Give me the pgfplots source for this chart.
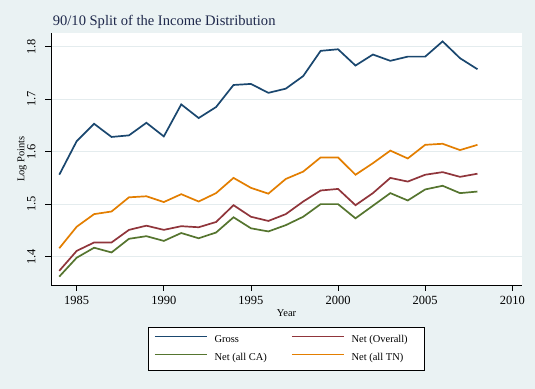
\documentclass[border=0pt]{standalone}
\usepackage{fontspec}
\setmainfont{Liberation Serif}
\usepackage{pgfplots}
\usepackage{pgfplotstable}
\pgfplotsset{compat=1.18}
\definecolor{bgc}{RGB}{234,242,243}
\definecolor{gridc}{RGB}{228,236,238}
\definecolor{snavy}{RGB}{26,71,111}
\definecolor{smaroon}{RGB}{144,53,59}
\definecolor{sgreen}{RGB}{85,117,47}
\definecolor{sorange}{RGB}{227,126,0}
\definecolor{titlec}{RGB}{30,40,75}
\pgfplotstableread{
year gross overall ca tn
1984 1.556 1.373 1.362 1.416
1985 1.620 1.411 1.398 1.457
1986 1.653 1.427 1.417 1.481
1987 1.628 1.427 1.408 1.486
1988 1.631 1.451 1.434 1.513
1989 1.655 1.459 1.439 1.515
1990 1.629 1.451 1.430 1.504
1991 1.690 1.458 1.445 1.519
1992 1.664 1.456 1.435 1.505
1993 1.685 1.466 1.446 1.521
1994 1.727 1.498 1.475 1.550
1995 1.729 1.476 1.454 1.531
1996 1.712 1.468 1.448 1.520
1997 1.720 1.481 1.460 1.548
1998 1.744 1.505 1.476 1.562
1999 1.792 1.526 1.500 1.589
2000 1.795 1.529 1.500 1.589
2001 1.764 1.498 1.473 1.556
2002 1.785 1.521 1.497 1.578
2003 1.773 1.550 1.521 1.602
2004 1.781 1.543 1.507 1.587
2005 1.781 1.556 1.528 1.613
2006 1.810 1.561 1.535 1.615
2007 1.778 1.552 1.521 1.603
2008 1.757 1.558 1.524 1.613
}\datatable
\begin{document}
\begin{tikzpicture}
\useasboundingbox (0,0) rectangle (535bp,389bp);
\fill[bgc] (0,0) rectangle (535bp,389bp);
\begin{axis}[
  at={(51bp,104bp)}, anchor=south west,
  scale only axis, width=471bp, height=252bp,
  xmin=1983.525, xmax=2010.557, ymin=1.346, ymax=1.826,
  axis x line*=bottom, axis y line*=left,
  axis background/.style={fill=white},
  axis line style={black, line width=0.9bp},
  xtick={1985,1990,...,2010}, ytick={1.4,1.5,1.6,1.7,1.8},
  x tick label style={/pgf/number format/1000 sep={}},
  y tick label style={/pgf/number format/fixed, /pgf/number format/precision=1},
  /pgf/number format/assume math mode=true,
  tick align=outside, major tick length=6bp,
  tick style={black, line width=0.8bp},
  ymajorgrids, major grid style={color=gridc, line width=0.8bp},
  tick label style={font=\fontsize{12.5}{14}\selectfont},
  xticklabel style={anchor=base, inner sep=0pt},
  xticklabel shift=13.5bp,
  yticklabel style={rotate=90, anchor=base, inner sep=0pt},
  yticklabel shift=9.7bp,
  every axis title shift=0pt,
  title={90/10 Split of the Income Distribution},
  title style={at={(axis description cs:0,1)}, anchor=base west, inner sep=0pt,
    xshift=1.7bp, yshift=7.6bp, font=\fontsize{14.6}{17}\selectfont, color=titlec},
  xlabel={Year},
  xlabel style={at={(axis description cs:0.5,0)}, anchor=base, inner sep=0pt,
    yshift=-31.5bp, font=\fontsize{10.5}{12}\selectfont},
  ylabel={Log Points},
  ylabel style={at={(axis description cs:-0.0567,0.5)}, anchor=base, inner sep=0pt,
    font=\fontsize{10.5}{12}\selectfont},
  legend columns=2,
  legend cell align=left,
  legend image code/.code={\draw[#1, line width=1bp] (0bp,3.5bp) -- (52bp,3.5bp);},
  legend style={at={(axis description cs:0.5,-0.1655)}, anchor=north,
    draw=black, line width=0.8bp, fill=white, inner xsep=6bp, inner ysep=7.45bp,
    row sep=8.4bp, font=\fontsize{10.5}{12}\selectfont,
    nodes={inner sep=0pt, text height=7.5bp, text depth=2.5bp},
    /tikz/every odd column/.append style={column sep=7.3bp},
    /tikz/every even column/.append style={column sep=9.7bp}},
]
\addplot[snavy, line width=1.7bp] table[x=year, y=gross] {\datatable};
\addlegendentry{\makebox[67bp][l]{Gross}}
\addplot[smaroon, line width=1.7bp] table[x=year, y=overall] {\datatable};
\addlegendentry{\makebox[67bp][l]{Net (Overall)}}
\addplot[sgreen, line width=1.7bp] table[x=year, y=ca] {\datatable};
\addlegendentry{\makebox[67bp][l]{Net (all CA)}}
\addplot[sorange, line width=1.7bp] table[x=year, y=tn] {\datatable};
\addlegendentry{\makebox[67bp][l]{Net (all TN)}}
\end{axis}
\end{tikzpicture}
\end{document}
